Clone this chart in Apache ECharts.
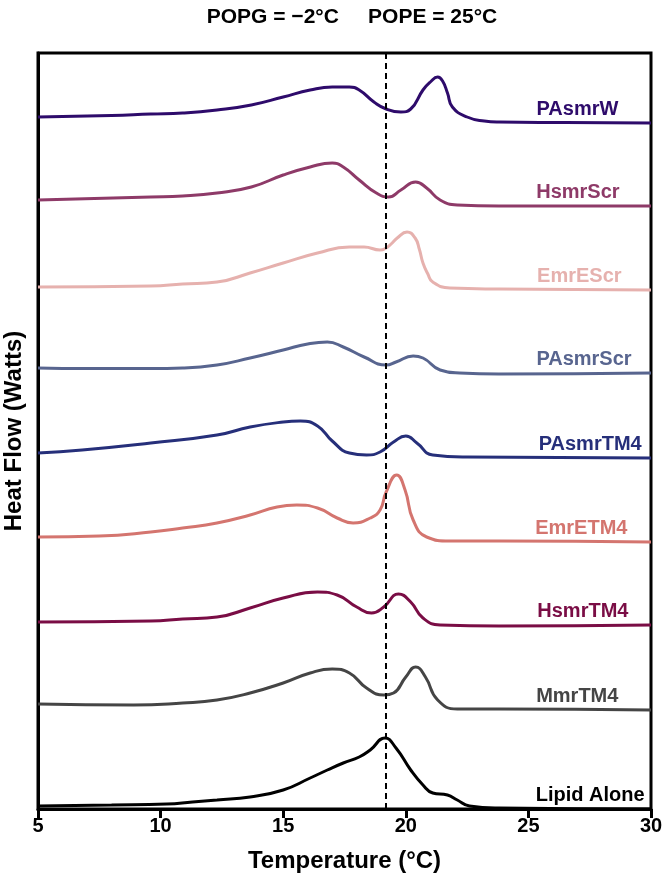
<!DOCTYPE html>
<html><head><meta charset="utf-8">
<script src="https://cdn.jsdelivr.net/npm/echarts@6/dist/echarts.min.js"></script>
<style>html,body{margin:0;padding:0;background:#fff}#c{width:664px;height:888px}</style>
</head><body><div id="c"></div>
<script>
const titleText = 'POPG = \u22122\u00b0C     POPE = 25\u00b0C';
const xTitle = 'Temperature (\u00b0C)';
const yTitle = 'Heat Flow (Watts)';
const transitionT = 19.2;

const names = ['PAsmrW','HsmrScr','EmrEScr','PAsmrScr','PAsmrTM4','EmrETM4','HsmrTM4','MmrTM4','Lipid Alone'];

const pasmrW_T = [5, 8, 9.6, 10.9, 12.3, 13.7, 15.0, 16.1, 17.0, 17.7, 18.1, 18.7, 19.2, 19.8, 20.2, 20.7, 21.0, 21.3, 21.5, 21.7, 21.9, 22.5, 23.2, 23.8, 26.5, 30];
const pasmrW_Y = [69.2, 69.35, 69.5, 69.6, 69.9, 70.4, 71.2, 71.9, 72.2, 72.2, 71.9, 70.7, 70.0, 69.7, 70.0, 71.9, 72.7, 73.2, 72.8, 71.6, 70.2, 69.2, 68.8, 68.7, 68.65, 68.6];

const hsmrScr_T = [5, 9.6, 10.9, 12.3, 13.7, 15.0, 16.1, 17.0, 17.45, 18.1, 18.8, 19.3, 19.8, 20.4, 20.85, 21.4, 22.1, 23.8, 30];
const hsmrScr_Y = [60.9, 61.2, 61.3, 61.6, 62.2, 63.4, 64.2, 64.6, 64.2, 62.9, 61.6, 61.2, 61.9, 62.7, 62.1, 60.9, 60.4, 60.3, 60.3];

const emrEScr_T = [5, 9.6, 10.9, 12.3, 13.65, 15.0, 16.4, 17.7, 18.3, 18.95, 19.2, 19.4, 19.65, 20.05, 20.38, 20.55, 20.7, 20.9, 21.1, 21.8, 23.8, 30];
const emrEScr_Y = [52.2, 52.3, 52.5, 52.7, 53.6, 54.6, 55.6, 56.2, 56.2, 55.9, 56.1, 56.5, 57.1, 57.7, 57.1, 56.0, 54.6, 53.5, 52.7, 52.1, 52.0, 51.9];

const pasmrScr_T = [5, 7, 9.6, 10.9, 12.3, 13.65, 15.0, 16.0, 16.8, 17.45, 18.3, 19.2, 19.6, 20.3, 20.7, 21.4, 22.2, 23.8, 30];
const pasmrScr_Y = [44.1, 44.05, 44.05, 44.1, 44.4, 45.1, 45.9, 46.5, 46.7, 46.2, 45.2, 44.4, 44.7, 45.3, 45.1, 43.9, 43.6, 43.5, 43.6];

const pasmrTM4_T = [5, 6.8, 9.6, 12.3, 13.65, 15.0, 15.7, 16.4, 17.0, 17.7, 18.4, 18.95, 19.5, 20.0, 20.45, 21.1, 22.5, 30];
const pasmrTM4_Y = [35.6, 35.9, 36.6, 37.4, 38.2, 38.7, 38.8, 38.3, 36.8, 35.6, 35.4, 35.7, 36.7, 37.3, 36.6, 35.4, 35.2, 35.1];

const emrETM4_T = [5, 7.5, 9.6, 10.9, 12.3, 13.65, 14.75, 15.55, 16.4, 17.2, 17.85, 18.55, 18.95, 19.2, 19.63, 19.97, 20.3, 20.85, 21.8, 23.8, 30];
const emrETM4_Y = [27.2, 27.3, 27.7, 28.1, 28.6, 29.4, 30.2, 30.4, 30.1, 29.1, 28.6, 29.1, 29.9, 31.7, 33.4, 31.9, 28.9, 27.2, 26.8, 26.8, 26.7];

const hsmrTM4_T = [5, 9.6, 10.9, 12.3, 13.65, 15.0, 16.4, 17.2, 18.0, 18.6, 19.1, 19.7, 20.2, 20.7, 21.4, 23.8, 30];
const hsmrTM4_Y = [18.7, 18.8, 19.0, 19.2, 20.1, 21.1, 21.7, 21.4, 20.2, 19.6, 20.2, 21.5, 20.7, 19.1, 18.4, 18.3, 18.4];

const mmrTM4_T = [5, 8.9, 10.9, 12.3, 13.65, 15.0, 16.1, 17.0, 17.7, 18.4, 19.1, 19.5, 20.0, 20.4, 20.8, 21.3, 22.1, 23.8, 30];
const mmrTM4_Y = [10.5, 10.4, 10.6, 10.9, 11.6, 12.6, 13.6, 14.0, 13.6, 12.1, 11.4, 11.6, 13.2, 14.2, 13.2, 10.9, 10.0, 10.0, 9.9];

const lipid_T = [5, 8, 10.25, 11.3, 12.3, 13.65, 15.0, 16.1, 16.8, 17.45, 18.1, 18.55, 19.15, 19.6, 20.2, 20.7, 21.1, 21.7, 22.1, 22.6, 23.8, 30];
const lipid_Y = [0.3, 0.4, 0.5, 0.7, 0.9, 1.2, 1.9, 3.1, 3.9, 4.6, 5.2, 5.9, 7.1, 6.1, 3.9, 2.4, 1.6, 1.4, 0.9, 0.3, 0.1, 0];

const xs = [pasmrW_T, hsmrScr_T, emrEScr_T, pasmrScr_T, pasmrTM4_T, emrETM4_T, hsmrTM4_T, mmrTM4_T, lipid_T];
const ys = [pasmrW_Y, hsmrScr_Y, emrEScr_Y, pasmrScr_Y, pasmrTM4_Y, emrETM4_Y, hsmrTM4_Y, mmrTM4_Y, lipid_Y];

// styling (not data)
const colors = ['#2e0b6b','#8e3a68','#e6b1ae','#58658f','#262f7a','#d4756f','#7a0d45','#454545','#000000'];
const labelRightT = [28.69, 28.74, 28.82, 29.23, 29.64, 29.06, 29.1, 28.69, 29.76];
const labelLift = 1.4;
const FONT = '"Liberation Sans", Arial, Helvetica, sans-serif';

const series = names.map((nm, i) => {
  const data = xs[i].map((t, j) => [t, ys[i][j]]);
  const last = ys[i][ys[i].length - 1];
  const s = {
    name: nm, type: 'line', data, smooth: 0.5, showSymbol: false, symbol: 'none',
    lineStyle: { color: colors[i], width: 3 }, itemStyle: { color: colors[i] },
    z: 3, silent: true, animation: false,
    markPoint: {
      symbol: 'rect', symbolSize: 1, silent: true, animation: false,
      itemStyle: { color: 'rgba(0,0,0,0)' },
      label: { show: true, position: 'left', distance: 0, formatter: nm,
        color: colors[i], fontFamily: FONT, fontWeight: 'bold', fontSize: 20 },
      data: [{ coord: [labelRightT[i], last + labelLift] }]
    }
  };
  if (i === names.length - 1) {
    s.markLine = {
      silent: true, animation: false, symbol: ['none', 'none'],
      lineStyle: { color: '#000', width: 2, type: [6, 4] },
      label: { show: false },
      data: [{ xAxis: transitionT }]
    };
  }
  return s;
});

const chart = echarts.init(document.getElementById('c'), null, { renderer: 'canvas' });
chart.setOption({
  animation: false,
  backgroundColor: '#fff',
  title: {
    text: titleText, left: 347, top: 2, textAlign: 'center',
    textStyle: { fontFamily: FONT, fontWeight: 'bold', fontSize: 21, color: '#000' }
  },
  grid: { left: 38, right: 13, top: 53, bottom: 79, show: true, borderColor: '#000', borderWidth: 3,
    backgroundColor: 'transparent', outerBoundsMode: 'none', containLabel: false },
  xAxis: {
    type: 'value', min: 5, max: 30, interval: 5,
    axisLine: { show: true, lineStyle: { color: '#000', width: 3 } },
    axisTick: { show: true, length: 9, lineStyle: { color: '#000', width: 3 } },
    axisLabel: { color: '#000', fontFamily: FONT, fontWeight: 'bold', fontSize: 20, margin: 7 },
    splitLine: { show: false },
    name: xTitle, nameLocation: 'middle', nameGap: 40,
    nameTextStyle: { color: '#000', fontFamily: FONT, fontWeight: 'bold', fontSize: 24 }
  },
  yAxis: {
    type: 'value', min: 0, max: 75.6,
    axisLine: { show: true, lineStyle: { color: '#000', width: 3 } },
    axisTick: { show: false }, axisLabel: { show: false }, splitLine: { show: false },
    name: yTitle, nameLocation: 'middle', nameGap: 12,
    nameTextStyle: { color: '#000', fontFamily: FONT, fontWeight: 'bold', fontSize: 24 }
  },
  series
});
</script></body></html>
